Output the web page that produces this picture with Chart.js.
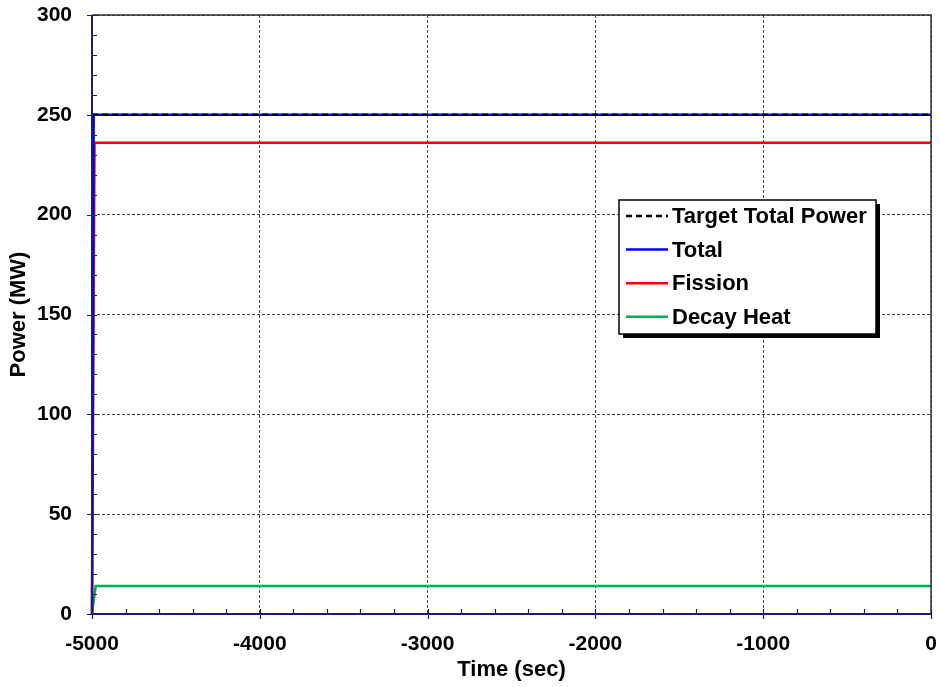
<!DOCTYPE html>
<html>
<head>
<meta charset="utf-8">
<script src="https://cdn.jsdelivr.net/npm/chart.js@4.4.1/dist/chart.umd.min.js"></script>
<style>
  html, body { margin: 0; padding: 0; background: #fff; }
  #wrap { width: 940px; height: 687px; position: relative; }
</style>
</head>
<body>
<div id="wrap"><canvas id="chart" width="940" height="687"></canvas></div>
<script>
// ---- data ----
const targetTime  = [-5000, 0];
const targetPower = [250, 250];

const totalTime  = [-5000, -4990, 0];
const totalPower = [0, 250, 250];

const fissionTime  = [-5000, -4985, 0];
const fissionPower = [0, 236, 236];

const decayTime  = [-5000, -4978, 0];
const decayPower = [0, 14, 14];

const xTicks = [-5000, -4000, -3000, -2000, -1000, 0];
const yTicks = [0, 50, 100, 150, 200, 250, 300];

const FONT = "'Liberation Sans', Arial, sans-serif";
const NAVY = "#1b1b78";

function pts(xs, ys) {
    return xs.map((x, i) => ({ x: x, y: ys[i] }));
}

// frame, tick marks and the boxed legend
const framePlugin = {
    id: "frame",
    afterDraw(chart) {
        const ctx = chart.ctx;
        const a = chart.chartArea;
        const xs = chart.scales.x, ys = chart.scales.y;
        ctx.save();

        // top and right border
        ctx.strokeStyle = "#333";
        ctx.lineWidth = 1.5;
        ctx.beginPath();
        ctx.moveTo(a.left, a.top);
        ctx.lineTo(a.right, a.top);
        ctx.lineTo(a.right, a.bottom);
        ctx.stroke();

        // left and bottom axis
        ctx.strokeStyle = NAVY;
        ctx.lineWidth = 2;
        ctx.beginPath();
        ctx.moveTo(a.left, a.top);
        ctx.lineTo(a.left, a.bottom);
        ctx.lineTo(a.right, a.bottom);
        ctx.stroke();

        // ticks
        ctx.lineWidth = 1.2;
        ctx.beginPath();
        for (let v = 0; v <= 300; v += 10) {
            const py = Math.round(ys.getPixelForValue(v)) + 0.5;
            const major = v % 50 === 0;
            ctx.moveTo(a.left - (major ? 5 : 0), py);
            ctx.lineTo(a.left + 5, py);
        }
        for (let v = -5000; v <= 0; v += 200) {
            const px = Math.round(xs.getPixelForValue(v)) + 0.5;
            const major = v % 1000 === 0;
            ctx.moveTo(px, a.bottom + (major ? 5 : 0));
            ctx.lineTo(px, a.bottom - 5);
        }
        ctx.stroke();

        // legend
        const lx = 619, ly = 200, lw = 257, lh = 134;
        ctx.fillStyle = "#000";
        ctx.fillRect(lx + 4, ly + 4, lw, lh);
        ctx.fillStyle = "#fff";
        ctx.fillRect(lx, ly, lw, lh);
        ctx.strokeStyle = "#000";
        ctx.lineWidth = 1.5;
        ctx.strokeRect(lx, ly, lw, lh);

        ctx.font = "bold 22px " + FONT;
        ctx.textBaseline = "middle";
        ctx.textAlign = "left";
        chart.data.datasets.forEach((ds, i) => {
            const ry = ly + 16 + i * 33.6;
            ctx.strokeStyle = ds.borderColor;
            ctx.lineWidth = 2.5;
            ctx.setLineDash(ds.borderDash || []);
            ctx.beginPath();
            ctx.moveTo(lx + 7, ry);
            ctx.lineTo(lx + 49, ry);
            ctx.stroke();
            ctx.setLineDash([]);
            ctx.fillStyle = "#000";
            ctx.fillText(ds.label, lx + 53, ry + 1);
        });
        ctx.restore();
    }
};

new Chart(document.getElementById("chart"), {
    type: "line",
    data: {
        datasets: [
            { label: "Target Total Power", data: pts(targetTime, targetPower), borderColor: "#000", borderDash: [6, 4], borderWidth: 2.5 },
            { label: "Total", data: pts(totalTime, totalPower), borderColor: "#0000ff", borderWidth: 2.5 },
            { label: "Fission", data: pts(fissionTime, fissionPower), borderColor: "#ff0000", borderWidth: 2.5 },
            { label: "Decay Heat", data: pts(decayTime, decayPower), borderColor: "#00b050", borderWidth: 2.5 }
        ]
    },
    options: {
        responsive: false,
        animation: false,
        devicePixelRatio: 1,
        layout: { padding: { left: 0, right: 9, top: 15, bottom: 0 } },
        elements: { point: { radius: 0 }, line: { tension: 0 } },
        datasets: { line: { clip: 4 } },
        plugins: { legend: { display: false }, tooltip: { enabled: false } },
        scales: {
            x: {
                type: "linear",
                min: -5000, max: 0,
                afterBuildTicks: s => { s.ticks = xTicks.map(v => ({ value: v })); },
                afterFit: s => { s.height = 73; s.paddingLeft = 0; s.paddingRight = 0; },
                ticks: { color: "#000", padding: 18, maxRotation: 0, callback: v => String(v), font: { family: FONT, size: 21, weight: "bold" } },
                grid: { color: "#444", lineWidth: 1, drawTicks: false },
                border: { display: false, dash: [3, 2] },
                title: { display: true, text: "Time (sec)", color: "#000", padding: { top: 0, bottom: 4 }, font: { family: FONT, size: 22, weight: "bold" } }
            },
            y: {
                min: 0, max: 300,
                afterBuildTicks: s => { s.ticks = yTicks.map(v => ({ value: v })); },
                afterFit: s => { s.width = 92; s.paddingTop = 0; s.paddingBottom = 0; },
                ticks: { color: "#000", padding: 20, callback: v => String(v), font: { family: FONT, size: 21, weight: "bold" } },
                grid: { color: "#444", lineWidth: 1, drawTicks: false },
                border: { display: false, dash: [3, 2] },
                title: { display: true, text: "Power (MW)", color: "#000", padding: { top: 6, bottom: 0 }, font: { family: FONT, size: 22, weight: "bold" } }
            }
        }
    },
    plugins: [framePlugin]
});
</script>
</body>
</html>
